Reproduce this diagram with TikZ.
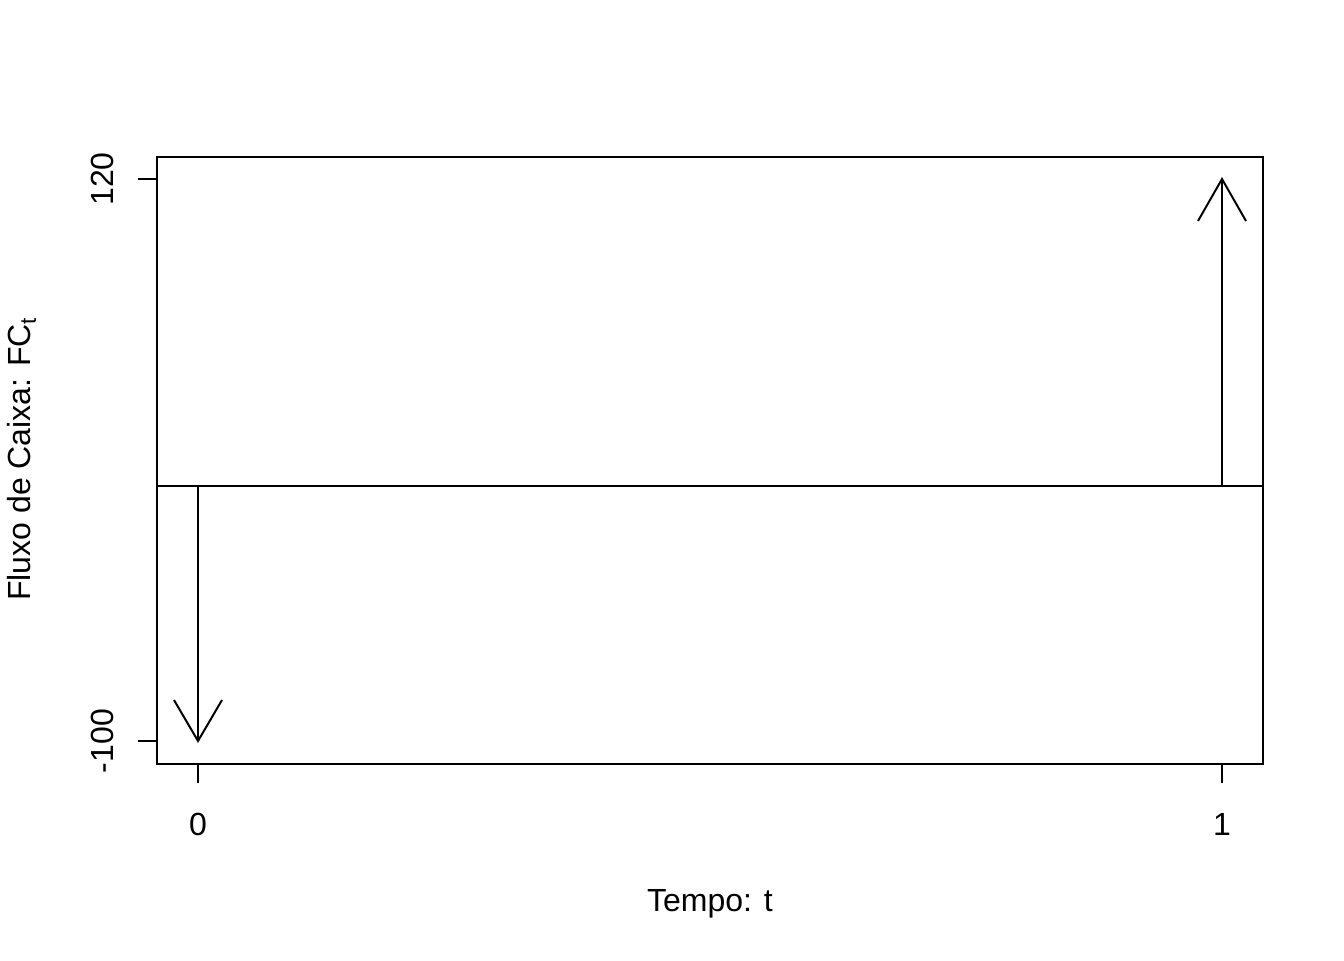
\documentclass[tikz,border=0pt]{standalone}
\usepackage{fontspec}
\setmainfont{Liberation Sans}
\begin{document}
\begin{tikzpicture}[x=0.75pt,y=-0.75pt,
  every node/.style={inner sep=0pt,outer sep=0pt,font=\fontsize{24}{28}\selectfont},
  axis/.style={line width=1.5pt,line cap=rect},
  cf/.style={line width=1.5pt},
  lbl/.style={anchor=base}]
\useasboundingbox (0,0) rectangle (1344,960);
% frame
\draw[axis] (157,157) rectangle (1263,764);
% zero line
\coordinate (zl) at (157,486);
\coordinate (zr) at (1263,486);
\draw[cf] (zl) -- (zr);
% y ticks
\coordinate (yt1a) at (138,179); \coordinate (yt1b) at (157,179);
\coordinate (yt2a) at (138,741); \coordinate (yt2b) at (157,741);
\draw[cf] (yt1a) -- (yt1b);
\draw[cf] (yt2a) -- (yt2b);
\node[lbl,rotate=90] (y120) at (113,179) {120};
\node[lbl,rotate=90] (ym100) at (113,741) {-100};
% x ticks
\coordinate (xt0a) at (198,764); \coordinate (xt0b) at (198,783);
\coordinate (xt1a) at (1222,764); \coordinate (xt1b) at (1222,783);
\draw[cf] (xt0a) -- (xt0b);
\draw[cf] (xt1a) -- (xt1b);
\node[lbl] (x0) at (198,835) {0};
\node[lbl] (x1) at (1222,835) {1};
% axis titles
\node[lbl] (xlab) at (710,911) {Tempo: t};
\node[lbl,rotate=90] (ylab) at (31,459) {Fluxo de Caixa: FC$_{\mathrm{t}}$};
% cash flow arrows
\coordinate (a0s) at (198,486); \coordinate (a0e) at (198,741);
\coordinate (a0l) at (174,700); \coordinate (a0r) at (222,700);
\draw[cf] (a0s) -- (a0e);
\draw[cf] (a0l) -- (a0e) -- (a0r);
\coordinate (a1s) at (1222,486); \coordinate (a1e) at (1222,179);
\coordinate (a1l) at (1198,221); \coordinate (a1r) at (1246,221);
\draw[cf] (a1s) -- (a1e);
\draw[cf] (a1l) -- (a1e) -- (a1r);
\end{tikzpicture}
\end{document}
